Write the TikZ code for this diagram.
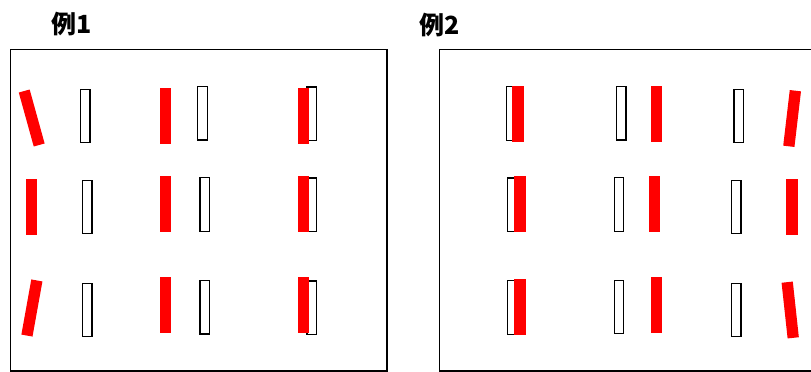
\documentclass[tikz,border=0pt]{standalone}
\usepackage{fontspec}
\newfontfamily\jpfont{Noto Sans CJK JP}
\definecolor{myr}{RGB}{255, 0, 0}

\begin{document}
\begin{tikzpicture}[x=1pt, y=-1pt,
    every node/.style={inner sep=0pt, outer sep=0pt},
    title/.style={font=\jpfont\bfseries\fontsize{25}{25}\selectfont},
    redbar/.style={fill=myr, minimum width=11.3pt, minimum height=56pt},
    blackbar/.style={draw=black, line width=1.2pt, fill=white, minimum width=9.4pt, minimum height=53.6pt}]
    \useasboundingbox (0, 0) rectangle (811, 372);
    \clip (0, 0) rectangle (811, 372);
    % titles
    \node[title] (title1) at (72, 24) {例1};
    \node[title] (title2) at (440, 25) {例2};
    % frames
    \draw[line width=1.2pt] (10.5, 49.5) rectangle (387, 371);
    \draw[line width=1.2pt] (439.5, 49.5) rectangle (820, 371);
    % example 1, row 1
    \node[redbar, rotate=15.5] (a11) at (31.7, 118) {};
    \node[blackbar] (b11) at (85.2, 116) {};
    \node[redbar] (a12) at (165.3, 116) {};
    \node[blackbar] (b12) at (202.5, 113.2) {};
    \node[blackbar] (b13) at (311.7, 113.8) {};
    \node[redbar] (a13) at (303.8, 116) {};
    % example 1, row 2
    \node[redbar] (a21) at (31.7, 206.7) {};
    \node[blackbar] (b21) at (87.3, 207) {};
    \node[redbar] (a22) at (165.3, 203.8) {};
    \node[blackbar] (b22) at (204.7, 204.3) {};
    \node[blackbar] (b23) at (311.7, 204.8) {};
    \node[redbar] (a23) at (303.8, 203.7) {};
    % example 1, row 3
    \node[redbar, rotate=-10.2] (a31) at (31.9, 308) {};
    \node[blackbar] (b31) at (87.3, 310) {};
    \node[redbar] (a32) at (165.3, 305.2) {};
    \node[blackbar] (b32) at (204.7, 307.2) {};
    \node[blackbar] (b33) at (311.7, 307.8) {};
    \node[redbar] (a33) at (303.8, 305.2) {};
    % example 2, row 1
    \node[blackbar] (d11) at (511.5, 113.5) {};
    \node[redbar] (c11) at (518, 114) {};
    \node[blackbar] (d12) at (621.3, 113.2) {};
    \node[redbar] (c12) at (656.7, 114) {};
    \node[blackbar] (d13) at (738.7, 116) {};
    \node[redbar, rotate=-6.7] (c13) at (792.1, 118.5) {};
    % example 2, row 2
    \node[blackbar] (d21) at (511.8, 204.7) {};
    \node[redbar] (c21) at (520, 203.8) {};
    \node[blackbar] (d22) at (618.8, 204.3) {};
    \node[redbar] (c22) at (654.7, 203.8) {};
    \node[blackbar] (d23) at (736.3, 207) {};
    \node[redbar] (c23) at (792, 206.7) {};
    % example 2, row 3
    \node[blackbar] (d31) at (511.8, 307.5) {};
    \node[redbar] (c31) at (520, 307.2) {};
    \node[blackbar] (d32) at (618.8, 307) {};
    \node[redbar] (c32) at (656.7, 305.2) {};
    \node[blackbar] (d33) at (736.3, 310) {};
    \node[redbar, rotate=6.2] (c33) at (790.2, 310) {};
\end{tikzpicture}
\end{document}
